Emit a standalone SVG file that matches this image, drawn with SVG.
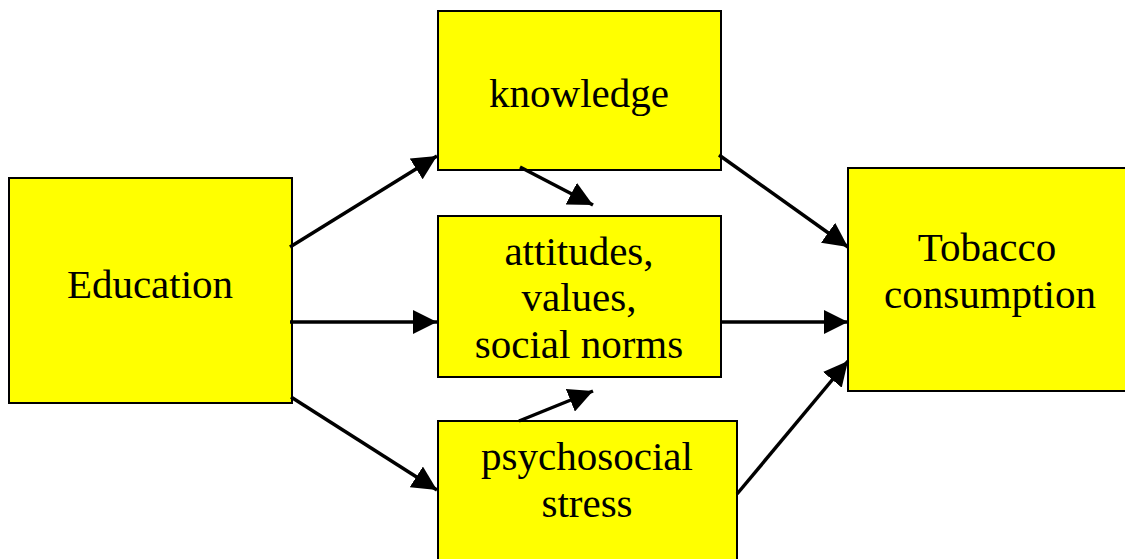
<svg xmlns="http://www.w3.org/2000/svg" width="1125" height="559" viewBox="0 0 1125 559">
<defs>
<style>
.box{fill:#ffff00;stroke:#000;stroke-width:2}
.lbl{font-family:"Liberation Serif","Times New Roman",serif;font-size:41px;fill:#000;text-anchor:middle}
.arr{stroke:#000;stroke-width:3.5;fill:none;marker-end:url(#ah)}
</style>
<marker id="ah" viewBox="0 0 10 10" refX="10" refY="5" markerWidth="7" markerHeight="7" markerUnits="strokeWidth" orient="auto">
<path d="M0,0 L10,5 L0,10 z" fill="#000"/>
</marker>
</defs>
<rect width="1125" height="559" fill="#fff"/>
<g id="education"><rect class="box" x="9" y="178" width="283" height="225"/><text class="lbl" x="150" y="298">Education</text></g>
<g id="knowledge"><rect class="box" x="438" y="11" width="283" height="159"/><text class="lbl" x="579" y="107">knowledge</text></g>
<g id="attitudes"><rect class="box" x="438" y="216" width="283" height="161"/><text class="lbl" x="579" y="265">attitudes,</text><text class="lbl" x="579" y="311">values,</text><text class="lbl" x="579" y="358">social norms</text></g>
<g id="stress"><rect class="box" x="438" y="421" width="299" height="145"/><text class="lbl" x="587" y="470">psychosocial</text><text class="lbl" x="587" y="517">stress</text></g>
<g id="tobacco"><rect class="box" x="848" y="168" width="285" height="223"/><text class="lbl" x="987" y="261">Tobacco</text><text class="lbl" x="990" y="308">consumption</text></g>
<g id="connectors">
<line class="arr" x1="290" y1="247" x2="437" y2="156"/>
<line class="arr" x1="290" y1="322" x2="437" y2="322"/>
<line class="arr" x1="291" y1="397" x2="437" y2="490"/>
<line class="arr" x1="520" y1="167" x2="593" y2="205"/>
<line class="arr" x1="519" y1="421" x2="593" y2="391"/>
<line class="arr" x1="719" y1="155" x2="848" y2="247"/>
<line class="arr" x1="721" y1="322" x2="848" y2="322"/>
<line class="arr" x1="737" y1="494" x2="848" y2="361"/>
</g>
</svg>
